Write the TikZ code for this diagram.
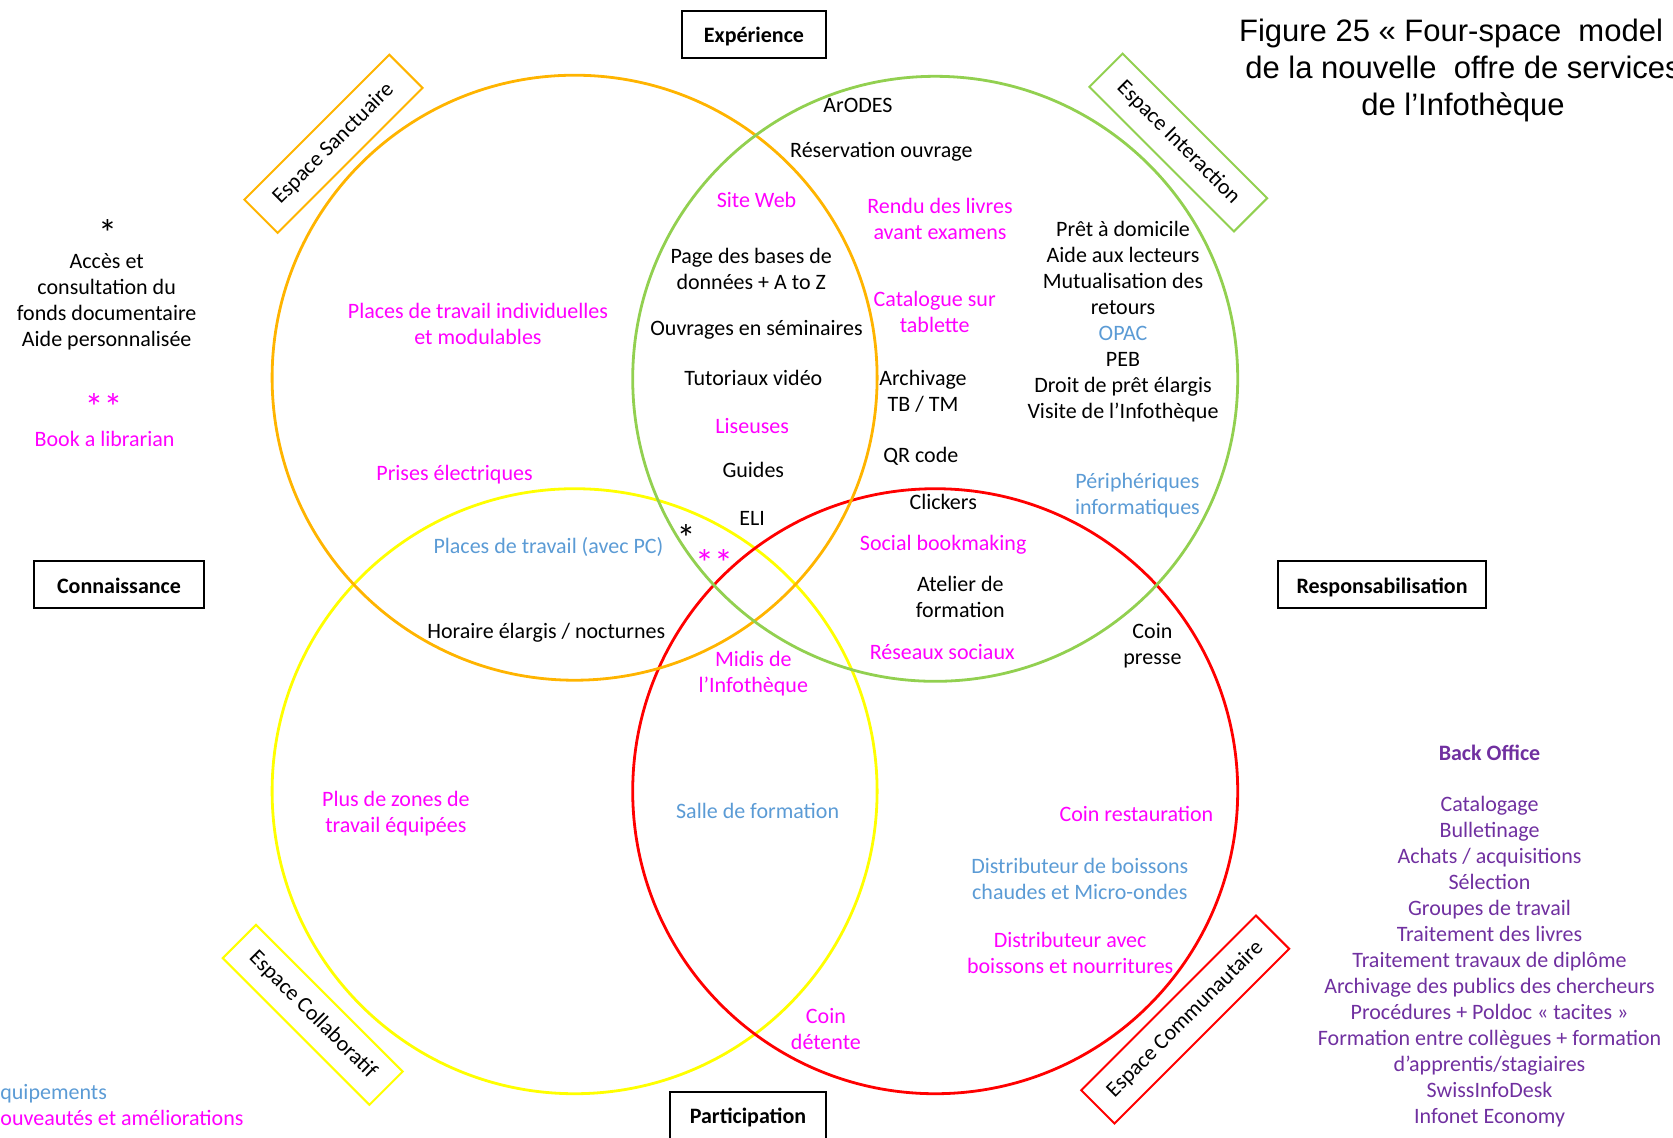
\documentclass[tikz,border=0pt]{standalone}
\usepackage{fontspec}
\setmainfont{Carlito}
\newfontfamily\titlefont{Liberation Sans}
\definecolor{cOrange}{HTML}{FFB400}
\definecolor{cGreen}{HTML}{92D050}
\definecolor{cYellow}{HTML}{FFFF00}
\definecolor{cRed}{HTML}{FF0000}
\definecolor{cMag}{HTML}{FF00FF}
\definecolor{cBlue}{HTML}{5B9BD5}
\definecolor{cPurple}{HTML}{7030A0}
\begin{document}
\begin{tikzpicture}[x=0.5pt,y=-0.5pt,
  every node/.style={font=\fontsize{11}{13}\selectfont, align=center, inner sep=0pt},
  ring/.style={line width=1.4pt},
  axisbox/.style={draw=black, line width=1pt, minimum height=23.5pt, text height=10.8pt, text depth=2.5pt, font=\fontsize{11}{13}\selectfont\bfseries},
  spacebox/.style={draw, line width=1pt, minimum height=23.5pt},
  mag/.style={text=cMag},
  blu/.style={text=cBlue},
  pur/.style={text=cPurple},
  starmark/.style={font=\fontsize{19}{19}\selectfont}
]
\useasboundingbox (0,0) rectangle (1673,1137);

% the four spaces
\draw[ring, cYellow] (574.6,791.2) circle[radius=302.5];
\draw[ring, cRed]    (935.2,791.2) circle[radius=302.5];
\draw[ring, cOrange] (574.6,377.7) circle[radius=302.5];
\draw[ring, cGreen]  (935.2,378.8) circle[radius=302.5];

% axis labels
\node[axisbox, minimum width=72pt]  (exp)  at (754,34.2)   {Expérience};
\node[axisbox, minimum width=85pt]  (con)  at (119,584.7)  {Connaissance};
\node[axisbox, minimum width=104pt] (resp) at (1382,584.7) {Responsabilisation};
\node[axisbox, minimum width=78pt]  (part) at (748,1115.1) {Participation};

% space names
\node[spacebox, draw=cOrange, minimum width=102.5pt, rotate=45]  (sanct) at (333.5,143.8)  {Espace Sanctuaire};
\node[spacebox, draw=cGreen,  minimum width=102.2pt, rotate=-45] (inter) at (1178.3,142.5) {Espace Interaction};
\node[spacebox, draw=cYellow, minimum width=103.7pt, rotate=-45] (colla) at (312.7,1014.8) {Espace Collaboratif};
\node[spacebox, draw=cRed,    minimum width=123.5pt, rotate=45]  (commu) at (1185.2,1019.5) {Espace Communautaire};

% title
\node[font=\titlefont\fontsize{15.5}{18.5}\selectfont] (title) at (1463,70)
  {Figure 25 « Four-space\ \ model\hspace*{12pt}\\de la nouvelle\ \ offre de services\\de l’Infothèque};

% legend, left
\node[starmark] (star1) at (107.5,232.5) {*};
\node (acces) at (106.7,302) {Accès et\\consultation du\\fonds documentaire\\Aide personnalisée};
\node[mag, starmark] (star2) at (103.5,407) {**};
\node[mag] (book) at (104.6,438.5) {Book a librarian};

% Sanctuaire
\node[mag] (places) at (478,323.5) {Places de travail individuelles\\et modulables};
\node[mag] (prises) at (454.5,474.5) {Prises électriques};

% Sanctuaire / Interaction
\node[mag] (site) at (756.5,200) {Site Web};
\node (bases) at (751.2,268.5) {Page des bases de\\données + A to Z};
\node (ouvr) at (756.5,330) {Ouvrages en séminaires};
\node (tuto) at (753.3,377.5) {Tutoriaux vidéo};
\node[mag] (lis) at (752.2,425.5) {Liseuses};
\node (guides) at (753.3,470) {Guides};
\node (eli) at (752.2,518.5) {ELI};
\node[starmark] (star3) at (686,538) {*};
\node[mag, starmark] (star4) at (714,562.5) {**};

% Interaction
\node (arodes) at (857.9,105.5) {ArODES};
\node (reserv) at (881.3,151.5) {Réservation ouvrage};
\node[mag] (rendu) at (940,218.5) {Rendu des livres\\avant examens};
\node[mag] (catal) at (934.7,311.5) {Catalogue sur\\tablette};
\node (archtb) at (923,391) {Archivage\\TB / TM};
\node (qr) at (920.8,456) {QR code};
\node (pret) at (1123,322) {Prêt à domicile\\Aide aux lecteurs\\Mutualisation des\\retours\\\textcolor{cBlue}{OPAC}\\PEB\\Droit de prêt élargis\\Visite de l’Infothèque};
\node[blu] (periph) at (1137.4,496) {Périphériques\\informatiques};

% Interaction / Communautaire
\node (click) at (943.2,502) {Clickers};
\node[mag] (social) at (943.2,544.5) {Social bookmaking};
\node (atelier) at (960.3,597) {Atelier de\\formation};
\node[mag] (reseaux) at (942.2,651.5) {Réseaux sociaux};
\node (presse) at (1152.4,645.5) {Coin\\presse};

% Sanctuaire / Collaboratif
\node[blu] (placespc) at (548.4,546.5) {Places de travail (avec PC)};
\node (horaire) at (546.3,633) {Horaire élargis / nocturnes};
\node[mag] (midis) at (753.3,673.5) {Midis de\\l’Infothèque};

% Collaboratif
\node[mag] (zones) at (395.9,814) {Plus de zones de\\travail équipées};
\node[blu] (salle) at (757.6,810.5) {Salle de formation};
\node[mag] (detente) at (825.9,1028.5) {Coin\\détente};

% Communautaire
\node[mag] (resto) at (1136.4,814) {Coin restauration};
\node[blu] (distrib1) at (1079.8,879) {Distributeur de boissons\\chaudes et Micro-ondes};
\node[mag] (distrib2) at (1070.2,953) {Distributeur avec\\boissons et nourritures};

% back office
\node[pur, font=\fontsize{11}{13}\selectfont\bfseries] (bo) at (1489.5,752.5) {Back Office};
\node[pur] (bolist) at (1489.5,961.5) {Catalogage\\Bulletinage\\Achats / acquisitions\\Sélection\\Groupes de travail\\Traitement des livres\\Traitement travaux de diplôme\\Archivage des publics des chercheurs\\Procédures + Poldoc « tacites »\\Formation entre collègues + formation\\d’apprentis/stagiaires\\SwissInfoDesk\\Infonet Economy};

% colour key, bottom left
\node[blu, anchor=base west] (keyequip) at (0,1099) {\llap{É}quipements};
\node[mag, anchor=base west] (keynew) at (0,1125) {\llap{N}ouveautés et améliorations};
\end{tikzpicture}
\end{document}
